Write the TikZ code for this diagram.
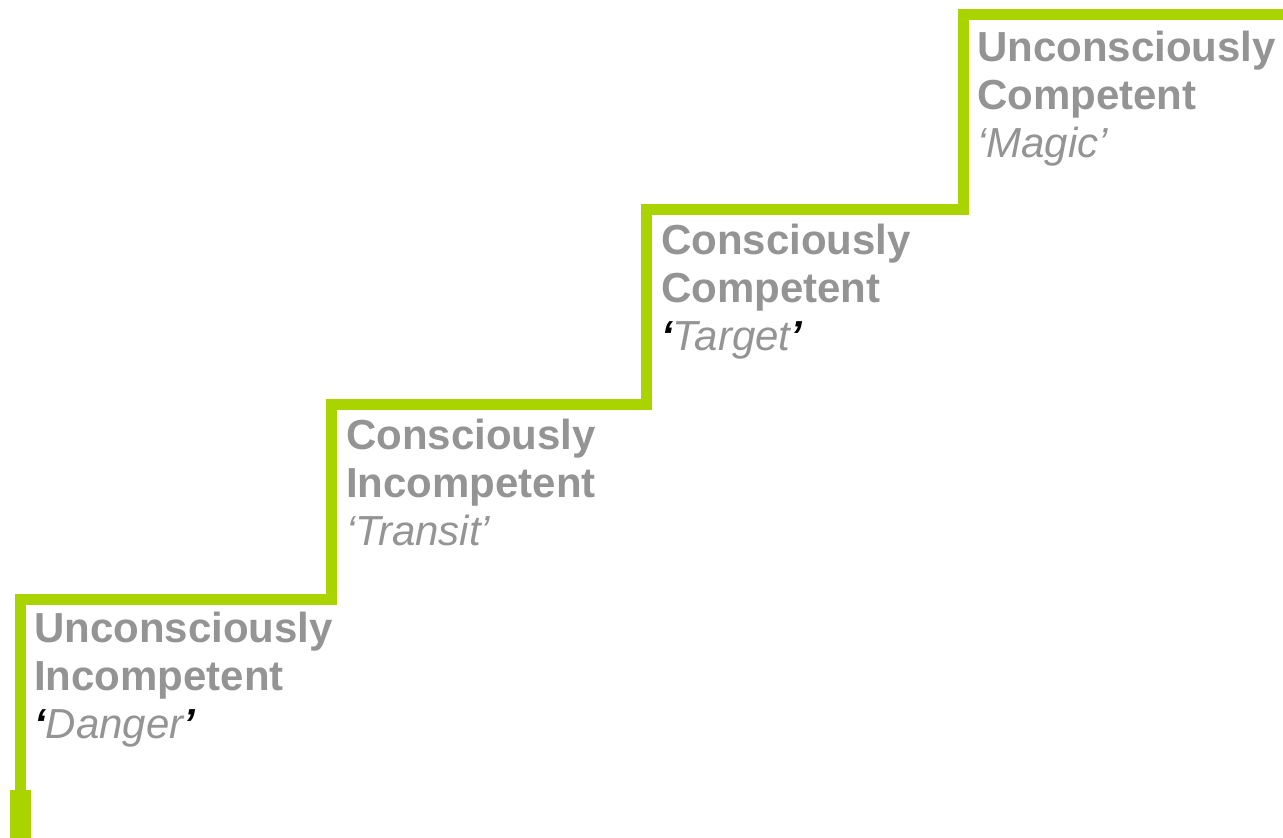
\documentclass[tikz,border=0pt]{standalone}
\usepackage{fontspec}
\setmainfont{Liberation Sans}
\usetikzlibrary{positioning}
\definecolor{stairgreen}{RGB}{170,212,0}
\definecolor{stagegray}{RGB}{148,148,148}
\tikzset{
  stair/.style      = {draw=stairgreen, line width=11pt, line join=miter},
  stagelabel/.style = {anchor=base west, align=left, inner sep=0pt,
                       text=stagegray, font=\fontsize{42}{48}\selectfont},
}
\newcommand{\DrawStage}[6]{%
  % stage name on two bold lines, nickname in quotes below
  % (base anchor sits on the last line)
  \node[stagelabel] (#1) at #2 {\textbf{#3}\\\textbf{#4}\\
    \textit{{#6`}#5{#6'}}};
}
\newcommand{\hardquote}{\bfseries\color{black}}

\begin{document}
\begin{tikzpicture}[x=1pt,y=-1pt]
    \useasboundingbox (0,0) rectangle (1283,838);

    % corners of the staircase
    \coordinate (s0) at (20,838);
    \coordinate (s1) at (20,599);
    \coordinate (s2) at (331,599);
    \coordinate (s3) at (331,404);
    \coordinate (s4) at (646,404);
    \coordinate (s5) at (646,209);
    \coordinate (s6) at (963,209);
    \coordinate (s7) at (963,14.5);
    \coordinate (s8) at (1283,14.5);

    \draw[stair] (s0) -- (s1) -- (s2) -- (s3) -- (s4)
                 -- (s5) -- (s6) -- (s7) -- (s8);
    % foot of the first step
    \fill[stairgreen] (10,790) rectangle (31,838);

    \DrawStage{ui}{(34,738)}{Unconsciously}{Incompetent}{Danger}{\hardquote}
    \DrawStage{ci}{(346,545)}{Consciously}{Incompetent}{Transit}{}
    \DrawStage{cc}{(661,350)}{Consciously}{Competent}{Target}{\hardquote}
    \DrawStage{uc}{(977,157)}{Unconsciously}{Competent}{Magic}{}
\end{tikzpicture}
\end{document}
